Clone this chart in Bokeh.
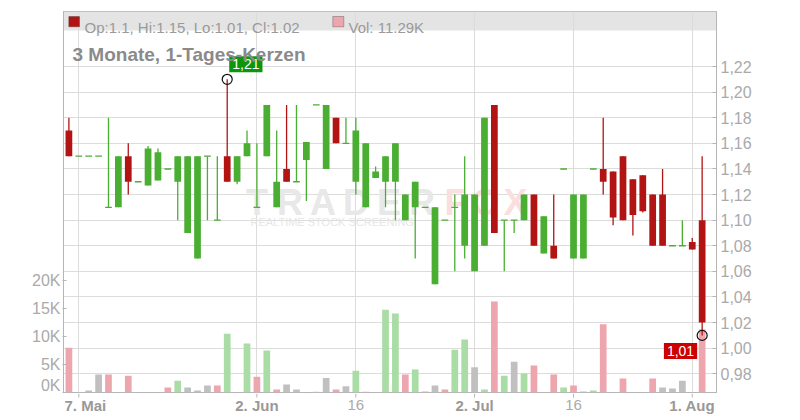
from bokeh.plotting import figure
from bokeh.layouts import column
from bokeh.models import (Range1d, LinearAxis, FixedTicker, CustomJSTickFormatter,
                          Label, BoxAnnotation, ColumnDataSource)
from bokeh.core.properties import value
from bokeh.embed import file_html
from bokeh.resources import INLINE

# ---------------- data ----------------
dates = ["2025-05-06", "2025-05-07", "2025-05-08", "2025-05-09",
         "2025-05-12", "2025-05-13", "2025-05-14", "2025-05-15", "2025-05-16",
         "2025-05-19", "2025-05-20", "2025-05-21", "2025-05-22", "2025-05-23",
         "2025-05-26", "2025-05-27", "2025-05-28", "2025-05-29", "2025-05-30",
         "2025-06-02", "2025-06-03", "2025-06-04", "2025-06-05", "2025-06-06",
         "2025-06-09", "2025-06-10", "2025-06-11", "2025-06-12", "2025-06-13",
         "2025-06-16", "2025-06-17", "2025-06-18", "2025-06-19", "2025-06-20",
         "2025-06-23", "2025-06-24", "2025-06-25", "2025-06-26", "2025-06-27",
         "2025-06-30", "2025-07-01", "2025-07-02", "2025-07-03", "2025-07-04",
         "2025-07-07", "2025-07-08", "2025-07-09", "2025-07-10", "2025-07-11",
         "2025-07-14", "2025-07-15", "2025-07-16", "2025-07-17", "2025-07-18",
         "2025-07-21", "2025-07-22", "2025-07-23", "2025-07-24", "2025-07-25",
         "2025-07-28", "2025-07-29", "2025-07-30", "2025-07-31", "2025-08-01",
         "2025-08-04"]

opens = [1.17, 1.15, 1.15, 1.15,
         1.11, 1.11, 1.15, 1.13, 1.127,
         1.131, 1.14, 1.13, 1.09, 1.07,
         1.15, 1.10, 1.15, 1.13, 1.15,
         1.11, 1.15, 1.11, 1.14, 1.13,
         1.147, 1.19, 1.14, 1.18, 1.16,
         1.13, 1.11, 1.133, 1.13, 1.13,
         1.10, 1.11, 1.11, 1.05, 1.10,
         1.11, 1.08, 1.06, 1.08, 1.19,
         1.10, 1.10, 1.10, 1.12, 1.074,
         1.08, 1.14, 1.07, 1.07, 1.14,
         1.14, 1.138, 1.15, 1.132, 1.135,
         1.12, 1.12, 1.08, 1.08, 1.083,
         1.10]
highs = [1.18, 1.15, 1.15, 1.15,
         1.18, 1.15, 1.16, 1.13, 1.158,
         1.156, 1.14, 1.15, 1.15, 1.15,
         1.15, 1.15, 1.21, 1.15, 1.17,
         1.16, 1.19, 1.17, 1.19, 1.19,
         1.161, 1.19, 1.19, 1.18, 1.18,
         1.18, 1.16, 1.142, 1.15, 1.16,
         1.12, 1.13, 1.11, 1.11, 1.10,
         1.12, 1.15, 1.12, 1.18, 1.19,
         1.10, 1.10, 1.12, 1.12, 1.103,
         1.12, 1.14, 1.12, 1.12, 1.14,
         1.18, 1.138, 1.15, 1.132, 1.135,
         1.12, 1.14, 1.08, 1.10, 1.086,
         1.15]
lows = [1.15, 1.15, 1.15, 1.15,
        1.11, 1.11, 1.12, 1.13, 1.127,
        1.131, 1.14, 1.10, 1.09, 1.07,
        1.10, 1.10, 1.13, 1.128, 1.15,
        1.11, 1.15, 1.11, 1.13, 1.13,
        1.115, 1.19, 1.14, 1.16, 1.16,
        1.12, 1.11, 1.133, 1.11, 1.10,
        1.10, 1.07, 1.11, 1.05, 1.10,
        1.06, 1.07, 1.06, 1.08, 1.09,
        1.06, 1.09, 1.10, 1.08, 1.074,
        1.07, 1.14, 1.07, 1.07, 1.14,
        1.12, 1.096, 1.10, 1.088, 1.106,
        1.08, 1.08, 1.08, 1.08, 1.077,
        1.01]
closes = [1.15, 1.15, 1.15, 1.15,
          1.11, 1.15, 1.13, 1.13, 1.156,
          1.153, 1.14, 1.15, 1.15, 1.15,
          1.15, 1.10, 1.13, 1.15, 1.16,
          1.11, 1.19, 1.13, 1.13, 1.13,
          1.161, 1.19, 1.19, 1.16, 1.16,
          1.17, 1.16, 1.138, 1.15, 1.16,
          1.12, 1.13, 1.11, 1.11, 1.10,
          1.11, 1.12, 1.12, 1.18, 1.09,
          1.10, 1.10, 1.12, 1.08, 1.103,
          1.07, 1.14, 1.12, 1.12, 1.14,
          1.13, 1.102, 1.10, 1.104, 1.107,
          1.08, 1.08, 1.08, 1.08, 1.077,
          1.02]
volumes = [8000, 0, 360, 3200,
           3200, 0, 3000, 0, 0,
           0, 900, 2100, 900, 360,
           1250, 1250, 10500, 0, 8750,
           2800, 7500, 550, 1450, 550,
           0, 150, 2600, 550, 1100,
           3900, 150, 0, 14800, 14100,
           3200, 4100, 200, 1250, 550,
           7650, 9450, 4500, 550, 16250,
           3000, 5500, 3400, 4800, 0,
           3200, 900, 1250, 200, 350,
           12200, 0, 2500, 0, 0,
           2500, 900, 700, 2100, 0,
           11290]

tick_dates = ["2025-05-07", "2025-06-02", "2025-06-16", "2025-07-02", "2025-07-16", "2025-08-01"]
tick_labels = ["7. Mai", "2. Jun", "16", "2. Jul", "16", "1. Aug"]
tick_bold = [True, True, False, True, False, True]
price_ticks = [0.98, 1.00, 1.02, 1.04, 1.06, 1.08, 1.10, 1.12, 1.14, 1.16, 1.18, 1.20, 1.22]
vol_ticks = [0, 5000, 10000, 15000, 20000]

title_text = "3 Monate, 1-Tages-Kerzen"

# ---------------- styling ----------------
UP = "#4aae33"
DOWN = "#b21414"
V_UP = "#aadca6"
V_DOWN = "#eea6ae"
V_FLAT = "#c0c0c0"
FONT = "Liberation Sans"
GRID = "#dcdcdc"
AXIS = "#b5b5b5"
YMIN, YMAX = 0.9654, 1.26296
XMIN, XMAX = -0.546, 65.45

FW, FH = 653, 381

xs = list(range(len(dates)))
ups = [c >= o for o, c in zip(opens, closes)]
col = [UP if u else DOWN for u in ups]

vcol = []
for i, c in enumerate(closes):
    prev = opens[0] if i == 0 else closes[i - 1]
    if round(c, 4) > round(prev, 4):
        vcol.append(V_UP)
    elif round(c, 4) < round(prev, 4):
        vcol.append(V_DOWN)
    else:
        vcol.append(V_FLAT)

p = figure(frame_width=FW, frame_height=FH, output_backend="svg", toolbar_location=None,
           x_range=Range1d(XMIN, XMAX), y_range=Range1d(YMIN, YMAX),
           y_axis_location="right",
           min_border_left=63, min_border_right=84, min_border_top=11, min_border_bottom=1,
           background_fill_color="white", border_fill_color="white")
p.outline_line_color = AXIS
p.outline_line_width = 1
p.extra_y_ranges = {"vol": Range1d(0, 68040)}

# header band
p.add_layout(BoxAnnotation(left=0, right=FW, bottom=FH - 19, top=FH,
                           left_units="screen", right_units="screen",
                           bottom_units="screen", top_units="screen",
                           fill_color="#e4e4e4", fill_alpha=1, line_color=None, level="image"))

# watermark
for i, ch in enumerate("TRADER"):
    p.add_layout(Label(x=193.5 + 33 * i, y=190, x_units="screen", y_units="screen", text=ch,
                       text_align="center", text_baseline="alphabetic", text_font=FONT,
                       text_font_style="bold", text_font_size="36px", text_color="#e8e8e8",
                       level="underlay"))
for i, ch in enumerate("FOX"):
    p.add_layout(Label(x=392 + 30 * i, y=190, x_units="screen", y_units="screen", text=ch,
                       text_align="center", text_baseline="alphabetic", text_font=FONT,
                       text_font_style="bold", text_font_size="36px", text_color="#fbdfdf",
                       level="underlay"))
p.add_layout(Label(x=187, y=171, x_units="screen", y_units="screen",
                   text="REALTIME STOCK SCREENING", text_font=FONT, text_font_size="11px",
                   text_color="#e6e6e6", text_baseline="alphabetic", level="underlay"))

# volume bars
vsrc = ColumnDataSource(dict(x=xs, v=volumes, c=vcol))
p.vbar(x="x", width=0.68, top="v", bottom=0, source=vsrc, y_range_name="vol",
       fill_color="c", line_color=None)

# wicks
wsrc = ColumnDataSource(dict(x=xs, lo=lows, hi=highs, c=col))
p.segment(x0="x", y0="lo", x1="x", y1="hi", source=wsrc, line_color="c", line_width=1.3)

# bodies
bi = [i for i in xs if abs(opens[i] - closes[i]) > 1e-9]
fi = [i for i in xs if abs(opens[i] - closes[i]) <= 1e-9]
bsrc = ColumnDataSource(dict(x=bi, top=[max(opens[i], closes[i]) for i in bi],
                             bot=[min(opens[i], closes[i]) for i in bi], c=[col[i] for i in bi]))
p.vbar(x="x", width=0.68, top="top", bottom="bot", source=bsrc, fill_color="c", line_color=None)
fsrc = ColumnDataSource(dict(x0=[i - 0.34 for i in fi], x1=[i + 0.34 for i in fi],
                             y=[opens[i] for i in fi], c=[col[i] for i in fi]))
p.segment(x0="x0", y0="y", x1="x1", y1="y", source=fsrc, line_color="c", line_width=1.4)

# max / min markers
imax = max(xs, key=lambda i: highs[i])
imin = min(xs, key=lambda i: lows[i])
p.scatter(x=[imax, imin], y=[highs[imax], lows[imin]], marker="circle", size=10,
          fill_color=None, line_color="#111111", line_width=1.2)
p.add_layout(Label(x=imax, y=highs[imax], x_offset=2, y_offset=7,
                   text=f"{highs[imax]:.2f}".replace(".", ","), text_align="left",
                   text_baseline="bottom", text_font=FONT, text_font_size="14px",
                   text_color="white", background_fill_color="#0b970b", padding=3))
p.add_layout(Label(x=imin, y=lows[imin], x_offset=-5, y_offset=-7.5,
                   text=f"{lows[imin]:.2f}".replace(".", ","), text_align="right",
                   text_baseline="top", text_font=FONT, text_font_size="14px",
                   text_color="white", background_fill_color="#cc0000", padding=3))

# header texts
L = len(dates) - 1
p.add_layout(BoxAnnotation(left=5.3, right=16, bottom=FH - 15.3, top=FH - 5,
                           left_units="screen", right_units="screen",
                           bottom_units="screen", top_units="screen",
                           fill_color=DOWN if closes[L] < opens[L] else UP, fill_alpha=1,
                           line_color="#222222", line_width=1))
p.add_layout(Label(x=21, y=FH - 15.5, x_units="screen", y_units="screen",
                   text=f"Op:{opens[L]:g}, Hi:{highs[L]:g}, Lo:{lows[L]:g}, Cl:{closes[L]:g}",
                   text_font=FONT, text_font_size="15px", text_color="#9a9a9a",
                   text_baseline="alphabetic"))
p.add_layout(BoxAnnotation(left=269.3, right=280.3, bottom=FH - 15.3, top=FH - 5,
                           left_units="screen", right_units="screen",
                           bottom_units="screen", top_units="screen",
                           fill_color=vcol[L], fill_alpha=1, line_color="#222222", line_width=1))
p.add_layout(Label(x=285, y=FH - 15.5, x_units="screen", y_units="screen",
                   text=f"Vol: {volumes[L] / 1000:.2f}K",
                   text_font=FONT, text_font_size="15px", text_color="#9a9a9a",
                   text_baseline="alphabetic"))
p.add_layout(Label(x=9, y=FH - 43.3, x_units="screen", y_units="screen", text=title_text,
                   text_font=FONT, text_font_size="19px", text_font_style="bold",
                   text_color="#8a8a8a", text_baseline="alphabetic"))

# axes
tick_x = [dates.index(d) for d in tick_dates]
p.xaxis.visible = False

p.yaxis.ticker = FixedTicker(ticks=price_ticks)
p.yaxis.formatter = CustomJSTickFormatter(code="return tick.toFixed(2).replace('.', ',');")
p.yaxis.major_label_text_font = FONT
p.yaxis.major_label_text_font_size = "16px"
p.yaxis.major_label_text_color = "#aaaaaa"
p.yaxis.axis_line_color = AXIS
p.yaxis.major_tick_line_color = AXIS
p.yaxis.major_tick_in = 4
p.yaxis.major_tick_out = 0
p.yaxis.minor_tick_line_color = None
p.yaxis.major_label_standoff = 4

vax = LinearAxis(y_range_name="vol", ticker=FixedTicker(ticks=vol_ticks),
                 formatter=CustomJSTickFormatter(code="return (tick / 1000).toFixed(0) + 'K';"))
vax.major_label_text_font = FONT
vax.major_label_text_font_size = "16px"
vax.major_label_text_color = "#aaaaaa"
vax.axis_line_color = AXIS
vax.major_tick_line_color = AXIS
vax.major_tick_in = 3
vax.major_tick_out = 1
vax.minor_tick_line_color = None
vax.major_label_standoff = 2
p.add_layout(vax, "left")

p.xgrid.ticker = FixedTicker(ticks=tick_x)
p.ygrid.ticker = FixedTicker(ticks=price_ticks)
p.xgrid.grid_line_color = GRID
p.ygrid.grid_line_color = GRID

# date strip below the chart: tick marks + mixed bold / normal labels
SH = 26
p2 = figure(frame_width=FW, frame_height=SH, output_backend="svg", toolbar_location=None,
            x_range=p.x_range, y_range=Range1d(0, SH), x_axis_type=None, y_axis_type=None,
            min_border_left=63, min_border_right=84, min_border_top=0, min_border_bottom=0,
            background_fill_color="white", border_fill_color="white")
p2.outline_line_color = None
p2.grid.visible = False
p2.segment(x0=tick_x, y0=[SH] * len(tick_x), x1=tick_x, y1=[SH - 4] * len(tick_x),
           line_color=AXIS, line_width=1)

# first label sits at the left edge of the strip: nudge it right so it is not cut
first = ColumnDataSource(dict(x=tick_x[:1], y=[SH - 11.5], t=tick_labels[:1],
                              fs=["bold" if b else "normal" for b in tick_bold[:1]],
                              c=["#999999" if b else "#aaaaaa" for b in tick_bold[:1]]))
p2.text(x="x", y="y", text="t", source=first, text_font_style="fs", text_color="c",
        text_align="center", text_baseline="middle", text_font=value(FONT),
        text_font_size=value("15px"), x_offset=6.5)
rest = ColumnDataSource(dict(x=tick_x[1:], y=[SH - 11.5] * (len(tick_x) - 1), t=tick_labels[1:],
                             fs=["bold" if b else "normal" for b in tick_bold[1:]],
                             c=["#999999" if b else "#aaaaaa" for b in tick_bold[1:]]))
p2.text(x="x", y="y", text="t", source=rest, text_font_style="fs", text_color="c",
        text_align="center", text_baseline="middle", text_font=value(FONT),
        text_font_size=value("15px"))

layout = column(p, p2, spacing=0)
open("out.html", "w").write(file_html(layout, INLINE))
